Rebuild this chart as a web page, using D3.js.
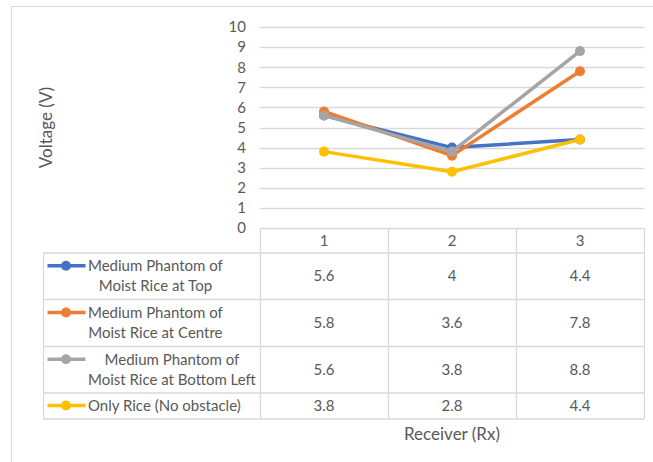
<!DOCTYPE html>
<html>
<head>
<meta charset="utf-8">
<script src="https://cdn.jsdelivr.net/npm/d3@7"></script>
<style>
  html, body { margin: 0; padding: 0; background: #fff; }
  svg { display: block; }
</style>
</head>
<body>
<svg id="chart" width="653" height="462"></svg>
<script>
// Receiver positions and measured voltages
const receivers = ["1", "2", "3"];
const seriesNames = [
  ["Medium Phantom of", "Moist Rice at Top"],
  ["Medium Phantom of", "Moist Rice at Centre"],
  ["Medium Phantom of", "Moist Rice at Bottom Left"],
  ["Only Rice (No obstacle)"]
];
const topValues = [5.6, 4, 4.4];
const centreValues = [5.8, 3.6, 7.8];
const bottomLeftValues = [5.6, 3.8, 8.8];
const onlyRiceValues = [3.8, 2.8, 4.4];
const seriesColors = ["#4472C4", "#ED7D31", "#A5A5A5", "#FFC000"];
const yTicks = [0, 1, 2, 3, 4, 5, 6, 7, 8, 9, 10];

const series = [topValues, centreValues, bottomLeftValues, onlyRiceValues].map((values, i) => ({
  name: seriesNames[i], values, color: seriesColors[i]
}));

const svg = d3.select("#chart");
const FONT = "Lato, 'Open Sans', sans-serif";
const FS = 15;         // tick and table text
const TITLE_FS = 17;   // axis titles
const TEXT = "#595959";
const GRID = "#D9D9D9";

// chart frame
svg.append("rect")
  .attr("x", 11.5).attr("y", 6.5).attr("width", 700).attr("height", 500)
  .attr("fill", "none").attr("stroke", GRID).attr("stroke-width", 1);

const plotLeft = 260, plotRight = 644, plotTop = 27, plotBottom = 228;
const x = d3.scaleBand().domain(receivers).range([plotLeft, plotRight]);
const y = d3.scaleLinear().domain([0, 10]).range([plotBottom, plotTop]);

// gridlines
svg.append("g").selectAll("line").data(yTicks.filter(t => t > 0)).join("line")
  .attr("x1", plotLeft).attr("x2", plotRight)
  .attr("y1", d => Math.round(y(d)) + 0.5).attr("y2", d => Math.round(y(d)) + 0.5)
  .attr("stroke", GRID).attr("stroke-width", 1.3);

// y axis labels
const yAxis = d3.axisLeft(y).tickValues(yTicks).tickSize(0).tickPadding(14);
const yg = svg.append("g").attr("transform", `translate(${plotLeft},0)`).call(yAxis);
yg.select(".domain").remove();
yg.selectAll("text").attr("font-family", FONT).attr("font-size", FS).attr("fill", TEXT);

// y axis title
svg.append("text")
  .attr("transform", `translate(52,${(plotTop + plotBottom) / 2}) rotate(-90)`)
  .attr("text-anchor", "middle")
  .attr("font-family", FONT).attr("font-size", TITLE_FS).attr("fill", TEXT)
  .text("Voltage (V)");

// data table
const tableLeft = 43.5;
const rowEdges = [228, 252.5, 299, 346, 392.5, 418.5];
const tg = svg.append("g");
const colEdges = [plotLeft, ...receivers.map(r => x(r) + x.bandwidth())];

// horizontal rules
rowEdges.forEach((ry, i) => {
  tg.append("line")
    .attr("x1", i === 0 ? plotLeft : tableLeft).attr("x2", plotRight)
    .attr("y1", ry + 0.5).attr("y2", ry + 0.5)
    .attr("stroke", GRID).attr("stroke-width", 1.3);
});
// vertical rules
colEdges.forEach(cx => {
  tg.append("line")
    .attr("x1", Math.round(cx) + 0.5).attr("x2", Math.round(cx) + 0.5)
    .attr("y1", rowEdges[0] + 0.5).attr("y2", rowEdges[rowEdges.length - 1] + 0.5)
    .attr("stroke", GRID).attr("stroke-width", 1.3);
});
tg.append("line")
  .attr("x1", tableLeft).attr("x2", tableLeft)
  .attr("y1", rowEdges[1] + 0.5).attr("y2", rowEdges[rowEdges.length - 1] + 0.5)
  .attr("stroke", GRID).attr("stroke-width", 1.3);

// header row: receiver numbers
tg.selectAll("text.hdr").data(receivers).join("text")
  .attr("class", "hdr")
  .attr("x", d => x(d) + x.bandwidth() / 2)
  .attr("y", (rowEdges[0] + rowEdges[1]) / 2)
  .attr("dy", "0.35em")
  .attr("text-anchor", "middle")
  .attr("font-family", FONT).attr("font-size", FS).attr("fill", TEXT)
  .text(d => d);

// series rows
series.forEach((s, i) => {
  const cy = (rowEdges[i + 1] + rowEdges[i + 2]) / 2;
  const keyY = s.name.length === 1 ? cy : cy - 10;
  // legend key
  tg.append("line")
    .attr("x1", 47.5).attr("x2", 85.5).attr("y1", keyY).attr("y2", keyY)
    .attr("stroke", s.color).attr("stroke-width", 3.5);
  tg.append("circle")
    .attr("cx", 66).attr("cy", keyY).attr("r", 5)
    .attr("fill", s.color);

  // legend label, lines centred within their own block
  const label = tg.append("text")
    .attr("font-family", FONT).attr("font-size", FS).attr("fill", TEXT)
    .attr("text-anchor", "middle");
  const spans = label.selectAll("tspan").data(s.name).join("tspan")
    .attr("y", (d, j) => cy + (j - (s.name.length - 1) / 2) * 20)
    .attr("dy", "0.35em")
    .text(d => d);
  let maxW = 0;
  spans.each(function () { maxW = Math.max(maxW, this.getComputedTextLength()); });
  spans.attr("x", 88 + maxW / 2);

  // values
  tg.selectAll(null).data(s.values).join("text")
    .attr("x", (d, j) => x(receivers[j]) + x.bandwidth() / 2)
    .attr("y", cy).attr("dy", "0.35em")
    .attr("text-anchor", "middle")
    .attr("font-family", FONT).attr("font-size", FS).attr("fill", TEXT)
    .text(d => d);
});

// lines and markers
const line = d3.line()
  .x((d, j) => x(receivers[j]) + x.bandwidth() / 2)
  .y(d => y(d));

series.forEach(s => {
  const g = svg.append("g");
  g.append("path").datum(s.values)
    .attr("d", line)
    .attr("fill", "none").attr("stroke", s.color)
    .attr("stroke-width", 3.5).attr("stroke-linejoin", "round");
  g.selectAll("circle").data(s.values).join("circle")
    .attr("cx", (d, j) => x(receivers[j]) + x.bandwidth() / 2)
    .attr("cy", d => y(d))
    .attr("r", 5)
    .attr("fill", s.color);
});

// x axis title
svg.append("text")
  .attr("x", x("2") + x.bandwidth() / 2).attr("y", 434)
  .attr("dy", "0.35em")
  .attr("text-anchor", "middle")
  .attr("font-family", FONT).attr("font-size", TITLE_FS).attr("fill", TEXT)
  .text("Receiver (Rx)");
</script>
</body>
</html>
